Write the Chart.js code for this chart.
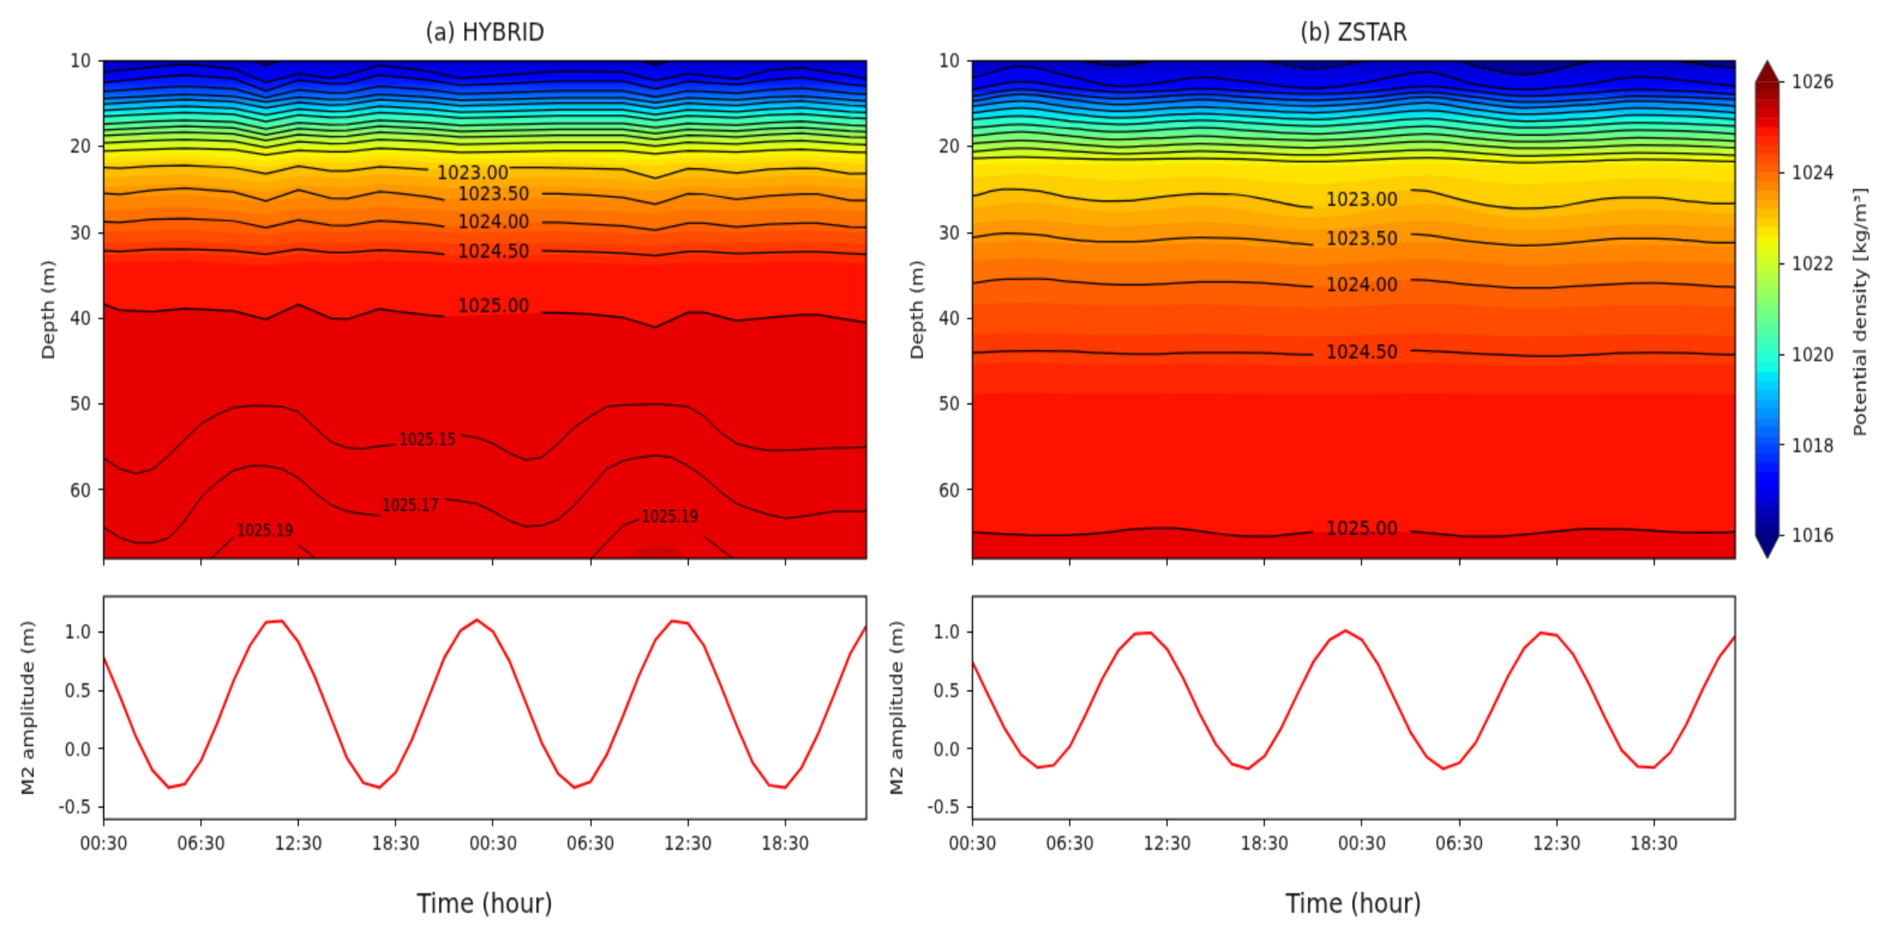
<!DOCTYPE html>
<html lang="en">
<head>
<meta charset="UTF-8">
<title>Potential density and M2 amplitude</title>
<script src="https://cdn.jsdelivr.net/npm/chart.js"></script>
<style>
  html, body { margin: 0; background: #fff; overflow: hidden; }
  /* the figure is drawn small and stretched up, the reference is a resampled image */
  #stage { position: absolute; left: 0; top: 0; width: 1577px; height: 670px; transform: scale(1.2, 1.4); transform-origin: 0 0; }
  canvas { position: absolute; }
</style>
</head>
<body>
<div id="stage"></div>
<script>
// ---- time axis ----
const hours = [0,1,2,3,4,5,6,7,8,9,10,11,12,13,14,15,16,17,18,19,20,21,22,23,24,25,26,27,28,29,30,31,32,33,34,35,36,37,38,39,40,41,42,43,44,45,46,47];
const xTicks = [0,6,12,18,24,30,36,42];
const xTickLabels = ['00:30','06:30','12:30','18:30','00:30','06:30','12:30','18:30'];
const depthTicks = [10,20,30,40,50,60];
const ampTicks = [-0.5,0,0.5,1];
const densityTicks = [1016,1018,1020,1022,1024,1026];
const colorLevels = [1016,1016.2,1016.4,1016.6,1016.8,1017,1017.2,1017.4,1017.6,1017.8,1018,1018.2,1018.4,1018.6,1018.8,1019,1019.2,1019.4,1019.6,1019.8,1020,1020.2,1020.4,1020.6,1020.8,1021,1021.2,1021.4,1021.6,1021.8,1022,1022.2,1022.4,1022.6,1022.8,1023,1023.2,1023.4,1023.6,1023.8,1024,1024.2,1024.4,1024.6,1024.8,1025,1025.2,1025.4,1025.6,1025.8,1026];

// ---- M2 amplitude (m), hourly ----
const ampA = [0.78,0.45,0.1,-0.18,-0.33,-0.3,-0.1,0.22,0.58,0.88,1.08,1.09,0.91,0.62,0.27,-0.08,-0.29,-0.33,-0.2,0.08,0.43,0.78,1.01,1.1,1.0,0.75,0.4,0.05,-0.21,-0.33,-0.28,-0.05,0.28,0.63,0.93,1.09,1.07,0.88,0.55,0.2,-0.12,-0.31,-0.33,-0.16,0.12,0.46,0.81,1.05];
const ampB = [0.74,0.45,0.17,-0.05,-0.16,-0.14,0.02,0.3,0.6,0.84,0.98,0.99,0.85,0.6,0.3,0.04,-0.13,-0.17,-0.06,0.17,0.46,0.74,0.93,1.01,0.93,0.72,0.43,0.14,-0.07,-0.17,-0.12,0.05,0.33,0.62,0.86,0.99,0.97,0.81,0.55,0.26,-0.01,-0.15,-0.16,-0.03,0.21,0.51,0.78,0.96];

// ---- (a) HYBRID, isopycnal depths (m) ----
const hoursUpperA = [0,3,5,8,10,12,14,15,17,20,22,25,28,32,34,36,37,39,41,43,46,47];
const a1016_5 = [9.59,9.0,8.7,9.14,10.5,9.29,9.8,9.73,8.7,9.29,9.95,9.73,9.44,9.44,10.47,9.44,9.59,9.88,9.29,9.0,9.88,10.03];
const a1017 = [11.3,10.7,10.4,10.9,12.5,11.5,12.0,11.6,10.5,11.2,12.0,11.6,11.2,11.3,12.3,11.5,11.7,12.1,11.1,10.8,11.7,12.1];
const a1017_5 = [12.49,11.95,11.67,12.07,13.53,12.21,12.69,12.62,11.67,12.21,12.83,12.62,12.35,12.35,13.3,12.35,12.49,12.76,12.21,11.95,12.76,12.9];
const a1018 = [13.58,13.17,12.95,13.26,14.3,13.37,13.73,13.68,12.95,13.37,13.84,13.68,13.48,13.48,14.21,13.48,13.58,13.79,13.37,13.17,13.79,13.9];
const a1018_5 = [14.4,14.08,13.91,14.15,14.81,14.24,14.52,14.48,13.91,14.24,14.6,14.48,14.32,14.32,14.89,14.32,14.4,14.56,14.24,14.08,14.56,14.65];
const a1019 = [15.02,14.68,14.5,14.75,15.5,14.84,15.14,15.09,14.5,14.84,15.23,15.09,14.93,14.93,15.52,14.93,15.02,15.18,14.84,14.68,15.18,15.27];
const a1019_5 = [15.76,15.44,15.27,15.51,16.32,15.6,15.88,15.84,15.27,15.6,15.96,15.84,15.68,15.68,16.25,15.68,15.76,15.92,15.6,15.44,15.92,16.01];
const a1020 = [16.47,16.16,16,16.23,17.09,16.31,16.58,16.54,16,16.31,16.66,16.54,16.39,16.39,16.93,16.39,16.47,16.62,16.31,16.16,16.62,16.7];
const a1020_5 = [17.35,17.05,16.9,17.12,17.94,17.19,17.45,17.41,16.9,17.19,17.53,17.41,17.27,17.27,17.78,17.27,17.35,17.49,17.19,17.05,17.49,17.57];
const a1021 = [18.05,17.75,17.6,17.82,18.64,17.89,18.15,18.11,17.6,17.89,18.23,18.11,17.97,17.97,18.48,17.97,18.05,18.19,17.89,17.75,18.19,18.27];
const a1021_5 = [18.72,18.44,18.3,18.51,19.28,18.58,18.82,18.79,18.3,18.58,18.89,18.79,18.65,18.65,19.14,18.65,18.72,18.86,18.58,18.44,18.86,18.93];
const a1022 = [19.55,19.29,19.15,19.35,20.08,19.41,19.64,19.61,19.15,19.41,19.71,19.61,19.48,19.48,19.94,19.48,19.55,19.68,19.41,19.29,19.68,19.75];
const a1022_5 = [20.52,20.3,20.19,20.35,20.95,20.41,20.6,20.57,20.19,20.41,20.65,20.57,20.46,20.46,20.84,20.46,20.52,20.62,20.41,20.3,20.62,20.68];

const hoursA = [0,1,3,5,8,10,12,14,15,17,18,20,21,22,24,25,27,28,30,32,34,36,37,39,41,43,44,46,47];
const a1023 = [22.44,22.52,22.25,22.17,22.44,23.14,22.25,22.83,22.83,22.33,22.44,22.67,null,null,null,22.44,22.44,22.48,22.56,22.64,23.68,22.56,22.64,23.06,22.64,22.52,22.56,23.14,23.1];
const a1023_5 = [25.43,25.54,25.08,24.84,25.27,26.32,25.04,26,26.05,25.23,25.39,25.85,26.2,null,null,null,25.47,25.47,25.66,25.93,26.71,25.47,25.54,26.12,25.74,25.54,25.54,26.24,26.24];
const a1024 = [28.76,28.84,28.45,28.37,28.64,29.42,28.53,29.15,29.19,28.64,28.76,29.03,29.3,null,null,null,28.84,28.84,29.03,29.22,29.73,28.91,28.91,29.34,29.03,28.91,28.91,29.34,29.38];
const a1024_5 = [32.13,32.21,31.98,31.94,32.13,32.52,31.94,32.33,32.33,32.05,32.13,32.33,32.52,null,null,null,32.13,32.17,32.25,32.4,32.71,32.21,32.21,32.44,32.33,32.25,32.25,32.44,32.52];
const a1025 = [38.37,39.07,39.22,38.84,39.15,40.1,38.37,40,40.1,38.9,39.2,39.65,39.8,null,null,null,39.35,39.35,39.5,39.9,41.05,39.3,39.3,40.3,39.9,39.6,39.6,40.2,40.5];

const a1025_15 = [56.28,57.56,58.1,57.6,56,54.1,52.3,51.2,50.4,50.2,50.2,50.3,50.9,52.7,54.4,55.1,55.2,54.9,54.7,null,null,null,53.6,53.9,54.6,55.7,56.5,56.2,54.6,52.7,51.4,50.3,50.1,50.05,50,50.1,50.3,51.4,53.3,54.6,55.1,55.4,55.4,55.3,55.2,55.1,55.1,55];
const a1025_17 = [64.34,65.58,66.16,66.16,65.6,63.6,60.85,59.1,57.75,57.2,57.2,57.56,58.6,60.27,61.74,62.5,62.8,63,null,null,null,61.05,61.3,61.6,62.5,63.6,64.26,64.15,63.45,61.8,59.7,57.56,56.6,56.2,56,56.2,57.2,58.5,60.2,61.6,62.3,62.9,63.3,63.1,62.8,62.5,62.5,62.5];
const a1025_19 = [null,null,null,null,null,null,69,67.3,65.5,null,null,null,66.4,67.9,69.2,null,null,null,null,null,null,null,null,null,null,null,null,null,null,null,68.1,66.1,64.15,63.4,null,null,null,65.4,66.9,68.2,null,null,null,null,null,null,null,null];

// filled band edges between the drawn contours
const hoursFillA = [0,5,10,12,15,17,22,28,34,36,39,43,47];
const a1022_6 = [21.23,20.9,21.66,21.12,21.28,20.9,21.36,21.17,21.55,21.17,21.33,21.01,21.39];
const a1022_8 = [21.88,21.5,22.37,21.75,21.93,21.5,22.03,21.81,22.24,21.81,22,21.63,22.06];
const a1023_2 = [23.62,23.2,24.18,23.48,23.69,23.2,23.79,23.55,24.04,23.55,23.76,23.34,23.83];
const a1023_4 = [24.72,24.3,25.28,24.58,24.79,24.3,24.89,24.65,25.14,24.65,24.86,24.44,24.93];
const a1023_6 = [26,25.6,26.53,25.86,26.06,25.6,26.16,25.93,26.39,25.93,26.13,25.74,26.2];
const a1023_8 = [27.38,27,27.87,27.25,27.43,27,27.53,27.31,27.74,27.31,27.5,27.13,27.56];
const a1024_2 = [29.93,29.65,30.3,29.84,29.97,29.65,30.05,29.88,30.21,29.88,30.02,29.75,30.07];
const a1024_4 = [31.24,31,31.55,31.16,31.27,31,31.33,31.2,31.47,31.2,31.31,31.08,31.35];
const a1024_6 = [32.64,32.4,32.95,32.56,32.67,32.4,32.73,32.6,32.87,32.6,32.71,32.48,32.75];
const a1024_8 = [33.54,33.3,33.85,33.46,33.57,33.3,33.63,33.5,33.77,33.5,33.61,33.38,33.65];
const hoursPatchA = [32.3,33,34,35,36.2];
const a1025_2 = [68,66.9,66.4,66.7,68];

// ---- (b) ZSTAR, isopycnal depths (m) ----
const hoursUpperB = [0,3,6,9,12,14,17,21,24,28,31,34,38,41,44,47];
const b1016_5 = [8.9,7.5,9.65,10.5,9.65,9.0,9.65,10.9,10.05,8.7,10.6,11.6,10.05,9.1,10.2,10.8];
const b1017 = [11.98,10.62,11.78,12.95,12.44,11.9,12.44,13.22,12.56,11.28,12.75,13.33,12.67,11.86,12.29,12.95];
const b1017_5 = [13.33,12.44,13.14,13.64,13.45,13.22,13.53,13.84,13.64,12.95,13.53,14.11,13.72,13.33,13.53,13.91];
const b1018 = [14.11,13.33,13.91,14.38,14.11,13.91,14.22,14.61,14.3,13.64,14.22,14.81,14.5,14.11,14.22,14.5];
const b1018_5 = [14.69,13.91,14.5,15.08,14.77,14.5,14.88,15.27,14.96,14.22,14.88,15.47,15.08,14.69,14.88,15.27];
const b1019 = [15.27,14.69,15.35,15.85,15.54,15.35,15.66,16.05,15.66,14.88,15.66,16.24,15.85,15.47,15.66,16.05];
const b1019_5 = [16.05,15.47,16.12,16.63,16.32,16.12,16.43,16.82,16.43,15.78,16.43,17.02,16.71,16.32,16.43,16.82];
const b1020 = [16.82,16.43,17.02,17.4,17.09,16.9,17.21,17.6,17.29,16.71,17.29,17.79,17.52,17.21,17.33,17.6];
const b1020_5 = [17.79,17.4,17.87,18.26,17.98,17.79,18.1,18.49,18.18,17.6,18.18,18.64,18.37,18.06,18.18,18.49];
const b1021 = [18.76,18.26,18.76,19.15,18.95,18.76,19.03,19.26,19.03,18.49,19.03,19.42,19.22,18.95,19.07,19.34];
const b1021_5 = [19.65,19.26,19.65,20.04,19.81,19.65,19.84,20.12,19.84,19.42,19.84,20.19,20.04,19.81,19.88,20.12];
const b1022 = [20.58,20.19,20.5,20.81,20.66,20.5,20.7,20.97,20.7,20.39,20.7,21.09,20.89,20.7,20.78,21.01];
const b1022_5 = [21.36,21.2,21.36,21.47,21.4,21.36,21.47,21.74,21.55,21.28,21.55,21.86,21.67,21.47,21.55,21.74];

const hoursB = [0,2,4,6,8,10,12,14,16,18,20,21,23,25,27,28,30,32,34,36,38,40,42,44,46,47];
const b1023 = [25.74,24.96,25.16,25.93,26.32,26.24,25.78,25.47,25.54,26.12,26.9,27.09,null,null,25.04,25.16,26.12,26.9,27.2,27.0,26.32,25.93,25.93,26.32,26.63,26.59];
const b1023_5 = [30.58,30.08,30.27,30.78,31.05,31.05,30.78,30.58,30.66,30.89,31.28,31.43,null,null,30.19,30.31,30.85,31.28,31.51,31.36,30.97,30.7,30.7,30.89,31.2,31.2];
const b1024 = [35.9,35.45,35.4,35.7,36.0,36.1,35.95,35.75,35.75,35.9,36.2,36.3,null,null,35.5,35.55,35.95,36.25,36.45,36.4,36.15,35.95,35.9,36.05,36.3,36.35];
const b1024_5 = [44,43.85,43.8,43.85,44.05,44.15,44.1,44.0,44,44.05,44.2,44.25,null,null,43.75,43.8,44,44.2,44.35,44.4,44.25,44.05,44,44.05,44.2,44.25];
const b1025 = [64.9,65.15,65.3,65.25,65.0,64.55,64.45,64.8,65.3,65.4,65.1,64.9,null,null,64.85,65.0,65.35,65.4,65.2,64.8,64.5,64.55,64.75,64.95,64.95,64.9];

const hoursFillB = [0,3,9,14,21,28,34,41,47];
const b1022_6 = [22.03,21.9,22.11,21.99,22.23,21.94,22.25,22.05,22.15];
const b1022_8 = [23.62,23.2,23.9,23.49,24.3,23.33,24.35,23.72,24.05];
const b1023_2 = [27.17,26.5,27.62,26.96,28.25,26.71,28.34,27.32,27.85];
const b1023_4 = [28.96,28.5,29.27,28.81,29.7,28.64,29.77,29.07,29.43];
const b1023_6 = [31.34,31,31.56,31.23,31.88,31.1,31.92,31.41,31.68];
const b1023_8 = [33.29,33,33.49,33.2,33.77,33.09,33.81,33.36,33.59];
const b1024_2 = [38.41,38.2,38.55,38.34,38.75,38.27,38.78,38.46,38.62];
const b1024_4 = [41.87,41.7,41.98,41.81,42.14,41.75,42.16,41.91,42.04];
const b1024_6 = [45.33,45.2,45.41,45.29,45.53,45.24,45.55,45.35,45.45];
const b1024_8 = [48.78,48.7,48.84,48.76,48.92,48.73,48.93,48.8,48.87];

// ---- contour labels ----
const labelTextA = ['1023.00','1023.50','1024.00','1024.50','1025.00','1025.15','1025.17','1025.19','1025.19'];
const labelHourA = [22.75,24.03,24.03,24.03,24.03,19.96,18.9,9.94,34.9];
const labelDepthA = [22.9,25.4,28.7,32.1,38.45,54.07,61.8,64.7,63.15];
const labelTextB = ['1023.00','1023.50','1024.00','1024.50','1025.00'];
const labelHourB = [24,24,24,24,24];
const labelDepthB = [26.05,30.7,36,43.9,64.4];

// ---- helpers ----
const SX = 1.2, SY = 1.4;
const FONT = 'DejaVu Sans';
const INK = '#111';

function lerp(stops, t) {
  for (let i = 1; i < stops.length; i++) {
    if (t <= stops[i][0]) {
      const p = stops[i - 1], q = stops[i];
      return p[1] + (q[1] - p[1]) * (t - p[0]) / (q[0] - p[0]);
    }
  }
  return stops[stops.length - 1][1];
}
function jet(t) {
  t = Math.max(0, Math.min(1, t));
  const r = lerp([[0,0],[0.35,0],[0.66,1],[0.89,1],[1,0.5]], t);
  const g = lerp([[0,0],[0.125,0],[0.375,1],[0.64,1],[0.91,0],[1,0]], t);
  const b = lerp([[0,0.5],[0.11,1],[0.34,1],[0.65,0],[1,0]], t);
  return 'rgb(' + Math.round(r * 255) + ',' + Math.round(g * 255) + ',' + Math.round(b * 255) + ')';
}
function densityColor(level) { return jet((level - 1016) / 10); }
// colour of the 0.2 wide filled band that holds this level
function bandColor(level) {
  const k = Math.floor((level - 1016) / 0.2 + 1e-6);
  return densityColor(1016 + (k + 0.5) * 0.2);
}
function toPoints(xs, ys) { return xs.map((x, i) => ({ x: x, y: ys[i] })); }
function mean(ys) {
  const v = ys.filter(y => y !== null);
  return v.reduce((s, y) => s + y, 0) / v.length;
}

function addCanvas(plot, pad) {
  const c = document.createElement('canvas');
  const w = plot.w / SX + pad.l + pad.r, h = plot.h / SY + pad.t + pad.b;
  c.width = Math.round(w);
  c.height = Math.round(h);
  c.style.left = (plot.x / SX - pad.l) + 'px';
  c.style.top = (plot.y / SY - pad.t) + 'px';
  document.getElementById('stage').appendChild(c);
  return c;
}

const boxPlugin = {
  id: 'box',
  afterDraw(chart) {
    const a = chart.chartArea, ctx = chart.ctx;
    ctx.save();
    ctx.strokeStyle = '#000';
    ctx.lineWidth = 1.2;
    ctx.strokeRect(a.left, a.top, a.right - a.left, a.bottom - a.top);
    ctx.restore();
  }
};

function contourLabels(texts, hs, ds) {
  return {
    id: 'contourLabels',
    afterDatasetsDraw(chart) {
      const ctx = chart.ctx;
      ctx.save();
      ctx.fillStyle = '#000';
      ctx.textAlign = 'center';
      ctx.textBaseline = 'middle';
      texts.forEach((t, i) => {
        ctx.font = (ds[i] > 50 && texts.length > 5 ? 11.4 : 14.5) + 'px "' + FONT + '"';
        ctx.fillText(t, chart.scales.x.getPixelForValue(hs[i]), chart.scales.y.getPixelForValue(ds[i]) + 1.2);
      });
      ctx.restore();
    }
  };
}

// tick labels must not push the plot area around
function noMargins(s) { s.paddingLeft = s.paddingRight = s.paddingTop = s.paddingBottom = 0; }

function xAxis(showLabels, height, title) {
  return {
    type: 'linear', min: 0, max: 47,
    afterBuildTicks(s) { s.ticks = xTicks.map(v => ({ value: v })); },
    afterFit(s) { s.height = height; noMargins(s); },
    border: { display: false },
    grid: { drawOnChartArea: false, color: '#000', tickLength: 5 },
    ticks: {
      autoSkip: false, maxRotation: 0, padding: 5, color: INK,
      font: { family: FONT, size: 13.9 },
      callback(v) { return showLabels ? xTickLabels[xTicks.indexOf(v)] : ''; }
    },
    title: { display: !!title, text: title || '', color: INK, padding: 0, font: { family: FONT, size: 19.4 } }
  };
}
function yAxis(extra, width, title, ticks, format) {
  return Object.assign({
    afterBuildTicks(s) { s.ticks = ticks.map(v => ({ value: v })); },
    afterFit(s) { s.width = width; noMargins(s); },
    border: { display: false },
    grid: { drawOnChartArea: false, color: '#000', tickLength: 4.5 },
    ticks: { autoSkip: false, padding: 6, labelOffset: 1, color: INK, font: { family: FONT, size: 13.9 }, callback: format },
    title: { display: !!title, text: title, color: INK, padding: 0, font: { family: FONT, size: 14 } }
  }, extra);
}

// depth panel: painted shallow to deep, each edge fills everything under it, contours on top
function densityPanel(plot, titleText, fills, lines, labels, smooth) {
  const pad = { l: 53.4, r: 3, t: 31.5, b: 10 };
  const datasets = [];
  const common = { pointRadius: 0, parsing: false, cubicInterpolationMode: smooth ? 'monotone' : 'default' };
  lines.forEach(l => {
    datasets.push(Object.assign({}, common, {
      data: toPoints(l.x, l.y), borderColor: '#000', borderWidth: l.thin ? 1 : 1.25,
      fill: false, spanGaps: false, label: 'contour ' + l.level
    }));
  });
  for (let i = fills.length - 1; i >= 0; i--) {
    const f = fills[i], next = fills[i + 1];
    datasets.push(Object.assign({}, common, {
      data: toPoints(f.x, f.y), borderWidth: 0, spanGaps: true, fill: 'start', label: 'band ' + f.level,
      backgroundColor(ctx) {
        // finer bands are stacked closely at the top: shade between the two contours there
        if (f.level > 1022.4 || !next || !ctx.chart.chartArea) return bandColor(f.level);
        const y = ctx.chart.scales.y;
        const g = ctx.chart.ctx.createLinearGradient(0, y.getPixelForValue(mean(f.y)), 0, y.getPixelForValue(mean(next.y)));
        g.addColorStop(0, densityColor(f.level));
        g.addColorStop(0.5, densityColor((f.level + next.level) / 2));
        g.addColorStop(1, densityColor(next.level));
        return g;
      }
    }));
  }
  // everything above the shallowest contour
  datasets.push(Object.assign({}, common, {
    data: toPoints(fills[0].x, fills[0].y), borderWidth: 0, fill: 'end', spanGaps: true,
    backgroundColor: bandColor(fills[0].level - 0.2), label: 'band top'
  }));
  return new Chart(addCanvas(plot, pad), {
    type: 'line',
    data: { datasets: datasets },
    options: {
      responsive: false, animation: false, devicePixelRatio: 1,
      layout: { padding: { right: pad.r } },
      plugins: {
        legend: { display: false }, tooltip: { enabled: false },
        title: { display: true, text: titleText, color: INK, fullSize: false, padding: { top: 1.5, bottom: 8.4 }, font: { family: FONT, size: 18, weight: 'normal' } }
      },
      scales: {
        x: xAxis(false, pad.b),
        y: yAxis({ type: 'linear', reverse: true, min: 10, max: 68 }, pad.l, 'Depth (m)', depthTicks, v => String(v))
      }
    },
    plugins: [boxPlugin, contourLabels(labels.text, labels.hour, labels.depth)]
  });
}

function ampPanel(plot, values) {
  const pad = { l: 70.4, r: 3, t: 3, b: 73.8 };
  return new Chart(addCanvas(plot, pad), {
    type: 'line',
    data: { datasets: [{ data: toPoints(hours, values), borderColor: '#ff0000', borderWidth: 2, pointRadius: 0, fill: false, parsing: false }] },
    options: {
      responsive: false, animation: false, devicePixelRatio: 1,
      layout: { padding: { top: pad.t, right: pad.r } },
      plugins: { legend: { display: false }, tooltip: { enabled: false } },
      scales: {
        x: xAxis(true, pad.b, 'Time (hour)'),
        y: yAxis({ type: 'linear', min: -0.6, max: 1.3 }, pad.l, 'M2 amplitude (m)', ampTicks, v => v.toFixed(1))
      }
    },
    plugins: [boxPlugin]
  });
}

// ---- plot rectangles in page pixels ----
const topY = 61, topH = 497.7, lowY = 596, lowH = 223, leftX = 104, rightX = 972.5, panelW = 763;

const upperFillsA = [[1016.5,a1016_5],[1017,a1017],[1017.5,a1017_5],[1018,a1018],[1018.5,a1018_5],[1019,a1019],[1019.5,a1019_5],[1020,a1020],[1020.5,a1020_5],[1021,a1021],[1021.5,a1021_5],[1022,a1022],[1022.5,a1022_5]]
  .map(p => ({ level: p[0], x: hoursUpperA, y: p[1] }));
const lowerFillsA = [
  { level: 1022.6, x: hoursFillA, y: a1022_6 }, { level: 1022.8, x: hoursFillA, y: a1022_8 },
  { level: 1023, x: hoursA, y: a1023 }, { level: 1023.2, x: hoursFillA, y: a1023_2 },
  { level: 1023.4, x: hoursFillA, y: a1023_4 }, { level: 1023.6, x: hoursFillA, y: a1023_6 },
  { level: 1023.8, x: hoursFillA, y: a1023_8 }, { level: 1024, x: hoursA, y: a1024 },
  { level: 1024.2, x: hoursFillA, y: a1024_2 }, { level: 1024.4, x: hoursFillA, y: a1024_4 },
  { level: 1024.6, x: hoursFillA, y: a1024_6 }, { level: 1024.8, x: hoursFillA, y: a1024_8 },
  { level: 1025, x: hoursA, y: a1025 }, { level: 1025.2, x: hoursPatchA, y: a1025_2 }
];
const linesA = upperFillsA.concat([
  { level: 1023, x: hoursA, y: a1023 }, { level: 1023.5, x: hoursA, y: a1023_5 },
  { level: 1024, x: hoursA, y: a1024 }, { level: 1024.5, x: hoursA, y: a1024_5 },
  { level: 1025, x: hoursA, y: a1025 },
  { level: 1025.15, x: hours, y: a1025_15, thin: true }, { level: 1025.17, x: hours, y: a1025_17, thin: true },
  { level: 1025.19, x: hours, y: a1025_19, thin: true }
]);

const upperFillsB = [[1016.5,b1016_5],[1017,b1017],[1017.5,b1017_5],[1018,b1018],[1018.5,b1018_5],[1019,b1019],[1019.5,b1019_5],[1020,b1020],[1020.5,b1020_5],[1021,b1021],[1021.5,b1021_5],[1022,b1022],[1022.5,b1022_5]]
  .map(p => ({ level: p[0], x: hoursUpperB, y: p[1] }));
const lowerFillsB = [
  { level: 1022.6, x: hoursFillB, y: b1022_6 }, { level: 1022.8, x: hoursFillB, y: b1022_8 },
  { level: 1023, x: hoursB, y: b1023 }, { level: 1023.2, x: hoursFillB, y: b1023_2 },
  { level: 1023.4, x: hoursFillB, y: b1023_4 }, { level: 1023.6, x: hoursFillB, y: b1023_6 },
  { level: 1023.8, x: hoursFillB, y: b1023_8 }, { level: 1024, x: hoursB, y: b1024 },
  { level: 1024.2, x: hoursFillB, y: b1024_2 }, { level: 1024.4, x: hoursFillB, y: b1024_4 },
  { level: 1024.6, x: hoursFillB, y: b1024_6 }, { level: 1024.8, x: hoursFillB, y: b1024_8 },
  { level: 1025, x: hoursB, y: b1025 }
];
const linesB = upperFillsB.concat([
  { level: 1023, x: hoursB, y: b1023 }, { level: 1023.5, x: hoursB, y: b1023_5 },
  { level: 1024, x: hoursB, y: b1024 }, { level: 1024.5, x: hoursB, y: b1024_5 },
  { level: 1025, x: hoursB, y: b1025 }
]);

densityPanel({ x: leftX, y: topY, w: panelW, h: topH }, '(a) HYBRID', upperFillsA.concat(lowerFillsA), linesA,
  { text: labelTextA, hour: labelHourA, depth: labelDepthA }, false);
densityPanel({ x: rightX, y: topY, w: panelW, h: topH }, '(b) ZSTAR', upperFillsB.concat(lowerFillsB), linesB,
  { text: labelTextB, hour: labelHourB, depth: labelDepthB }, true);
ampPanel({ x: leftX, y: lowY, w: panelW, h: lowH }, ampA);
ampPanel({ x: rightX, y: lowY, w: panelW, h: lowH }, ampB);

// ---- colorbar: one floating bar per band, axis runs on into the two end arrows ----
const barTop = 1026.48, barBottom = 1015.5;
const colorbarPlugin = {
  id: 'colorbarEnds',
  afterDatasetsDraw(chart) {
    const a = chart.chartArea, y = chart.scales.y, ctx = chart.ctx;
    const y1 = y.getPixelForValue(1026), y0 = y.getPixelForValue(1016), mid = (a.left + a.right) / 2;
    ctx.save();
    ctx.fillStyle = jet(1);
    ctx.beginPath(); ctx.moveTo(a.left, y1); ctx.lineTo(mid, a.top); ctx.lineTo(a.right, y1); ctx.closePath(); ctx.fill();
    ctx.fillStyle = jet(0);
    ctx.beginPath(); ctx.moveTo(a.left, y0); ctx.lineTo(mid, a.bottom); ctx.lineTo(a.right, y0); ctx.closePath(); ctx.fill();
    ctx.strokeStyle = '#333';
    ctx.lineWidth = 0.9;
    ctx.beginPath();
    ctx.moveTo(a.left, y1); ctx.lineTo(mid, a.top); ctx.lineTo(a.right, y1);
    ctx.lineTo(a.right, y0); ctx.lineTo(mid, a.bottom); ctx.lineTo(a.left, y0); ctx.closePath();
    ctx.stroke();
    // the axis title reads upwards, a right hand axis would turn it the other way
    ctx.translate(a.right + 69, (a.top + a.bottom) / 2 + 1.8);
    ctx.rotate(-Math.PI / 2);
    ctx.fillStyle = INK;
    ctx.font = '14.4px "' + FONT + '"';
    ctx.textAlign = 'center';
    ctx.textBaseline = 'middle';
    ctx.fillText('Potential density [kg/m³]', 0, 0);
    ctx.restore();
  }
};
const barPad = { l: 3, r: 78.4, t: 3, b: 3 };
new Chart(addCanvas({ x: 1755, y: 60.5, w: 23, h: 498 }, barPad), {
  type: 'bar',
  data: {
    labels: [''],
    datasets: colorLevels.slice(0, -1).map((lv, i) => ({
      data: [[lv, colorLevels[i + 1]]],
      backgroundColor: densityColor(lv + 0.1),
      barPercentage: 1, categoryPercentage: 1, grouped: false, borderWidth: 0
    }))
  },
  options: {
    responsive: false, animation: false, devicePixelRatio: 1,
    layout: { padding: { left: barPad.l, top: barPad.t, bottom: barPad.b } },
    plugins: { legend: { display: false }, tooltip: { enabled: false } },
    scales: {
      x: { display: false },
      y: yAxis({ type: 'linear', position: 'right', min: barBottom, max: barTop }, barPad.r, '', densityTicks, v => String(v))
    }
  },
  plugins: [colorbarPlugin]
});
</script>
</body>
</html>
